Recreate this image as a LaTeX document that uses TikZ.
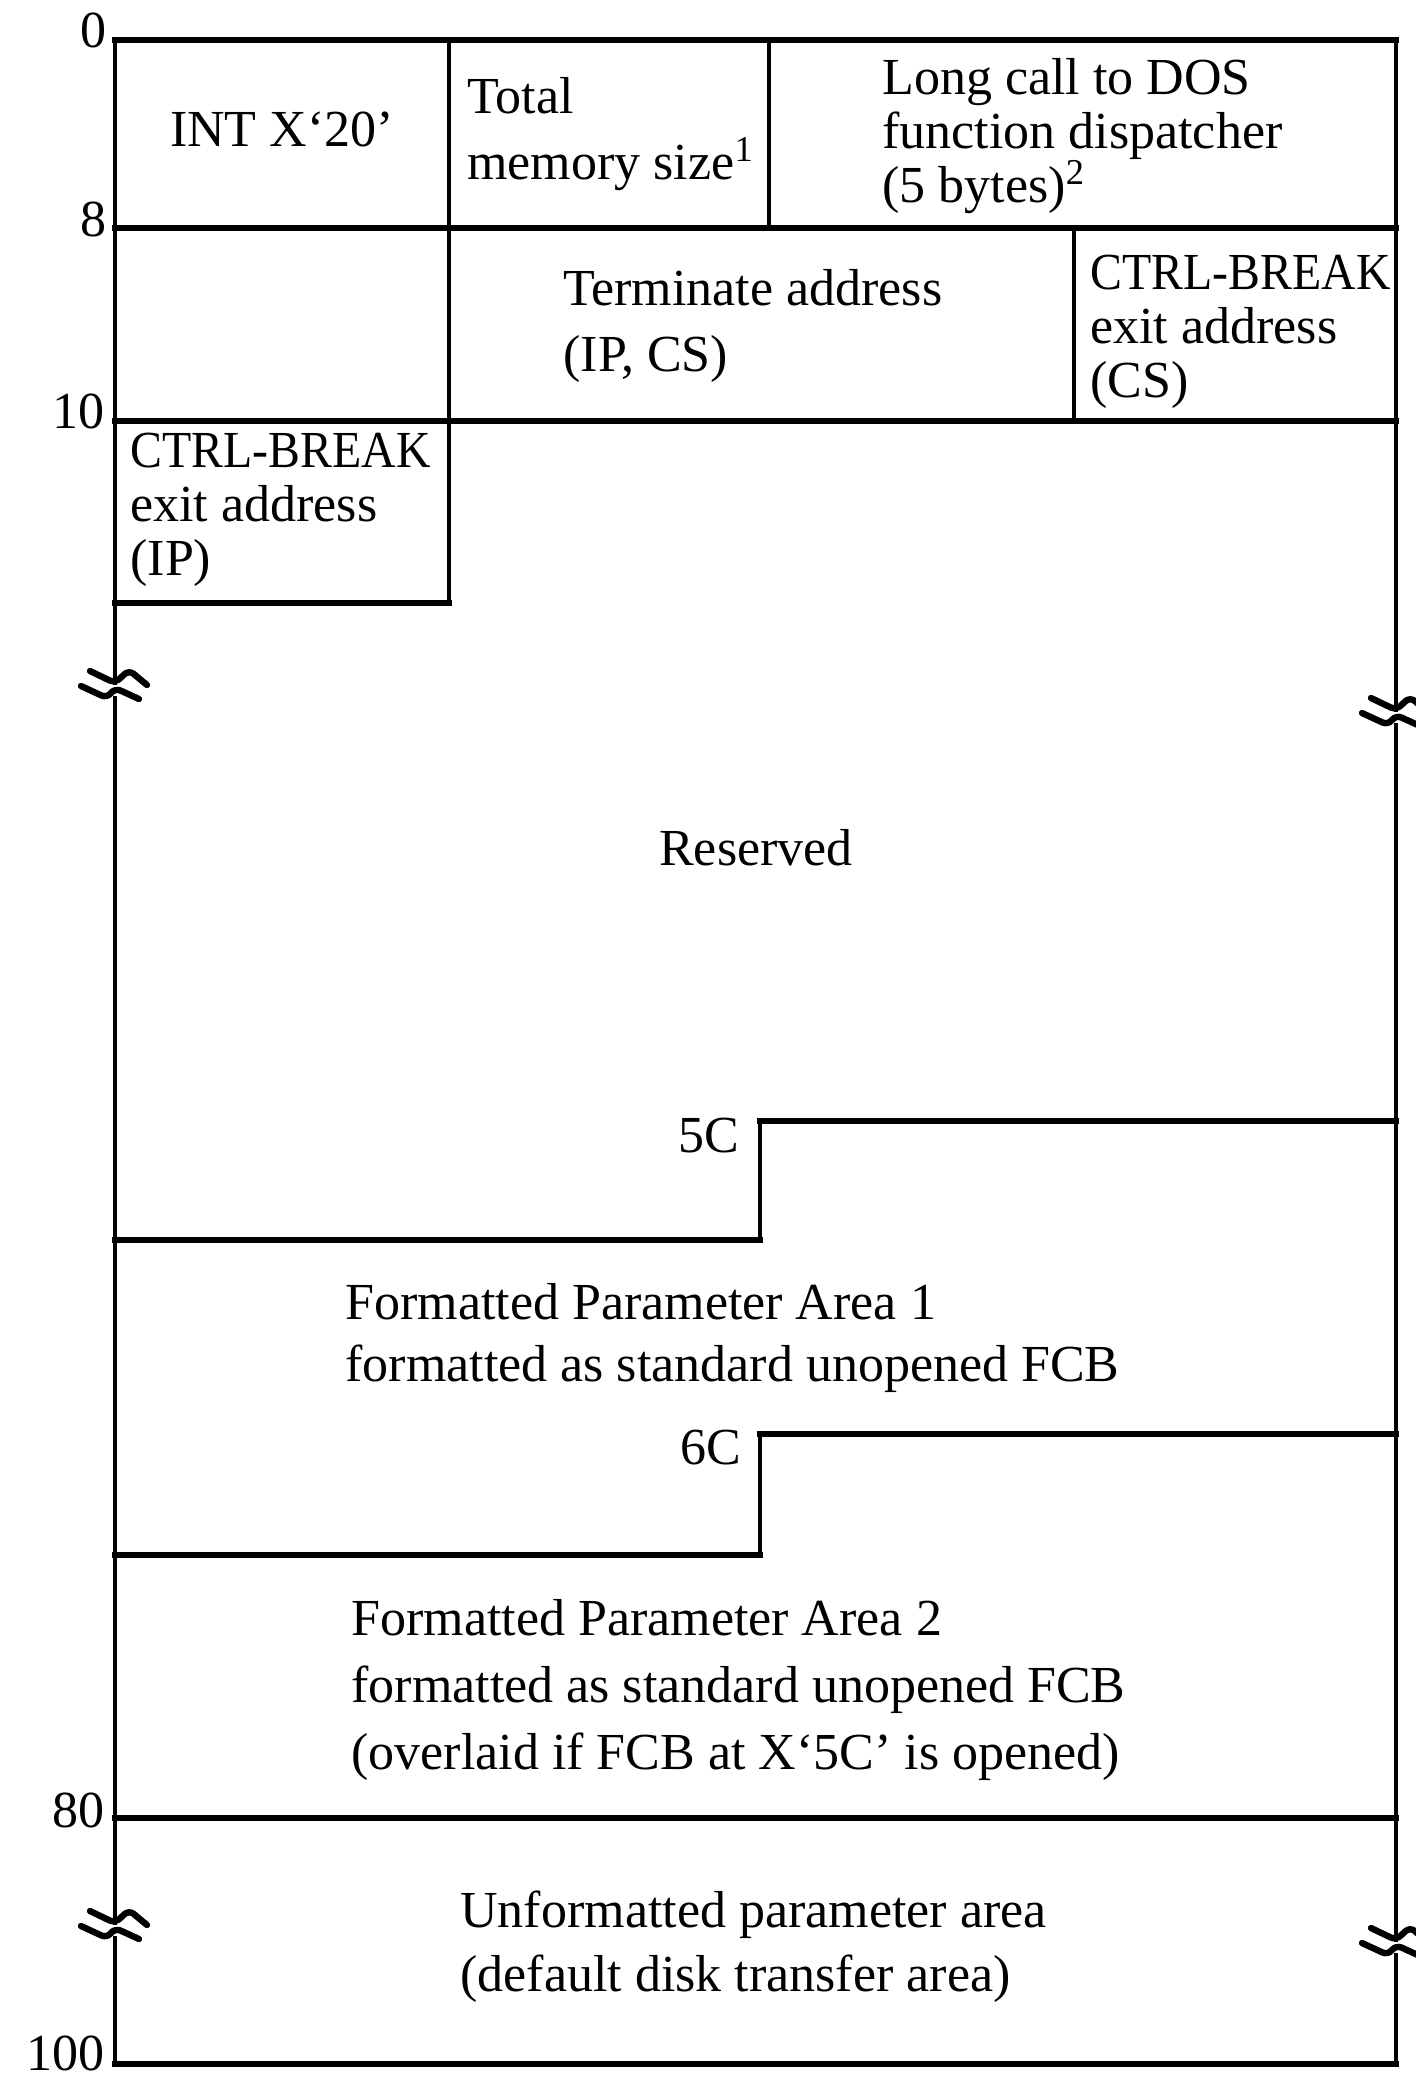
\documentclass[tikz,border=0pt]{standalone}
\usepackage{fontspec}
\setmainfont{Liberation Serif}
\usepackage{graphicx}
\begin{document}
\begin{tikzpicture}[x=0.5pt,y=-0.5pt,
  hwall/.style={line width=3pt, line cap=rect},
  vwall/.style={line width=2.1pt, line cap=rect},
  stroke/.style={line width=3.2pt, line cap=round, line join=round, rounded corners=3pt},
  txt/.style={inner sep=0pt, align=left, font=\fontsize{26}{27}\selectfont},
  lbl/.style={inner sep=0pt, anchor=east, font=\fontsize{26}{27}\selectfont},
  brk/.pic={
    \draw[stroke] (-25,-12) -- (0,0) -- (14,-13) -- (32,2);
    \draw[stroke] (-34,3) -- (-8,15) -- (0,5) -- (24,16);
  }]
\useasboundingbox (0,0) rectangle (1416,2079);
% outer frame: verticals with break marks
\draw[vwall] (115,40) -- (115,683);
\draw[vwall] (115,698) -- (115,1923);
\draw[vwall] (115,1938) -- (115,2064);
\draw[vwall] (1396,40) -- (1396,710);
\draw[vwall] (1396,725) -- (1396,1940);
\draw[vwall] (1396,1955) -- (1396,2064);
\pic at (115,683) {brk};
\pic at (1396,710) {brk};
\pic at (115,1923) {brk};
\pic at (1396,1940) {brk};
% inner verticals
\draw[vwall] (449,40) -- (449,603);
\draw[vwall] (769,40) -- (769,228);
\draw[vwall] (1074,228) -- (1074,421);
\draw[vwall] (760,1121) -- (760,1240);
\draw[vwall] (760,1434) -- (760,1555);
% horizontals
\draw[hwall] (115,40) -- (1396,40);
\draw[hwall] (115,228) -- (1396,228);
\draw[hwall] (115,421) -- (1396,421);
\draw[hwall] (115,603) -- (449,603);
\draw[hwall] (760,1121) -- (1396,1121);
\draw[hwall] (115,1240) -- (760,1240);
\draw[hwall] (760,1434) -- (1396,1434);
\draw[hwall] (115,1555) -- (760,1555);
\draw[hwall] (115,1818) -- (1396,1818);
\draw[hwall] (115,2064) -- (1396,2064);
% offset labels
\node[lbl] (l0) at (107,30) {0};
\node[lbl] (l8) at (107,219) {8};
\node[lbl] (l10) at (105,411) {10};
\node[lbl] (l80) at (105,1810) {80};
\node[lbl] (l100) at (105,2053) {100};
% texts
\node[txt] (int) at (282,129) {INT X‘20’};
\node[txt, anchor=west, font=\fontsize{26}{33}\selectfont] (tot) at (467,134) {Total\\memory size\textsuperscript{1}};
\node[txt, anchor=west] (long) at (882,136) {Long call to DOS\\function dispatcher\\(5 bytes)\textsuperscript{2}};
\node[txt, anchor=west, font=\fontsize{26}{33}\selectfont] (term) at (563,326) {Terminate address\\(IP, CS)};
\node[txt, anchor=west] (cbcs) at (1090,332) {\scalebox{0.92}[1]{CTRL-BREAK}\\exit address\\(CS)};
\node[txt, anchor=west] (cbip) at (130,510) {\scalebox{0.92}[1]{CTRL-BREAK}\\exit address\\(IP)};
\node[txt] (res) at (756,848) {Reserved};
\node[lbl] (l5c) at (740,1136) {5C};
\node[txt, anchor=west, font=\fontsize{26}{31}\selectfont] (fpa1) at (345,1338) {Formatted Parameter Area 1\\formatted as standard unopened FCB};
\node[lbl] (l6c) at (742,1448) {6C};
\node[txt, anchor=west, font=\fontsize{26}{33.5}\selectfont] (fpa2) at (351,1690) {Formatted Parameter Area 2\\formatted as standard unopened FCB\\(overlaid if FCB at X‘5C’ is opened)};
\node[txt, anchor=west, font=\fontsize{26}{32}\selectfont] (unf) at (460,1947) {Unformatted parameter area\\(default disk transfer area)};
\end{tikzpicture}
\end{document}
